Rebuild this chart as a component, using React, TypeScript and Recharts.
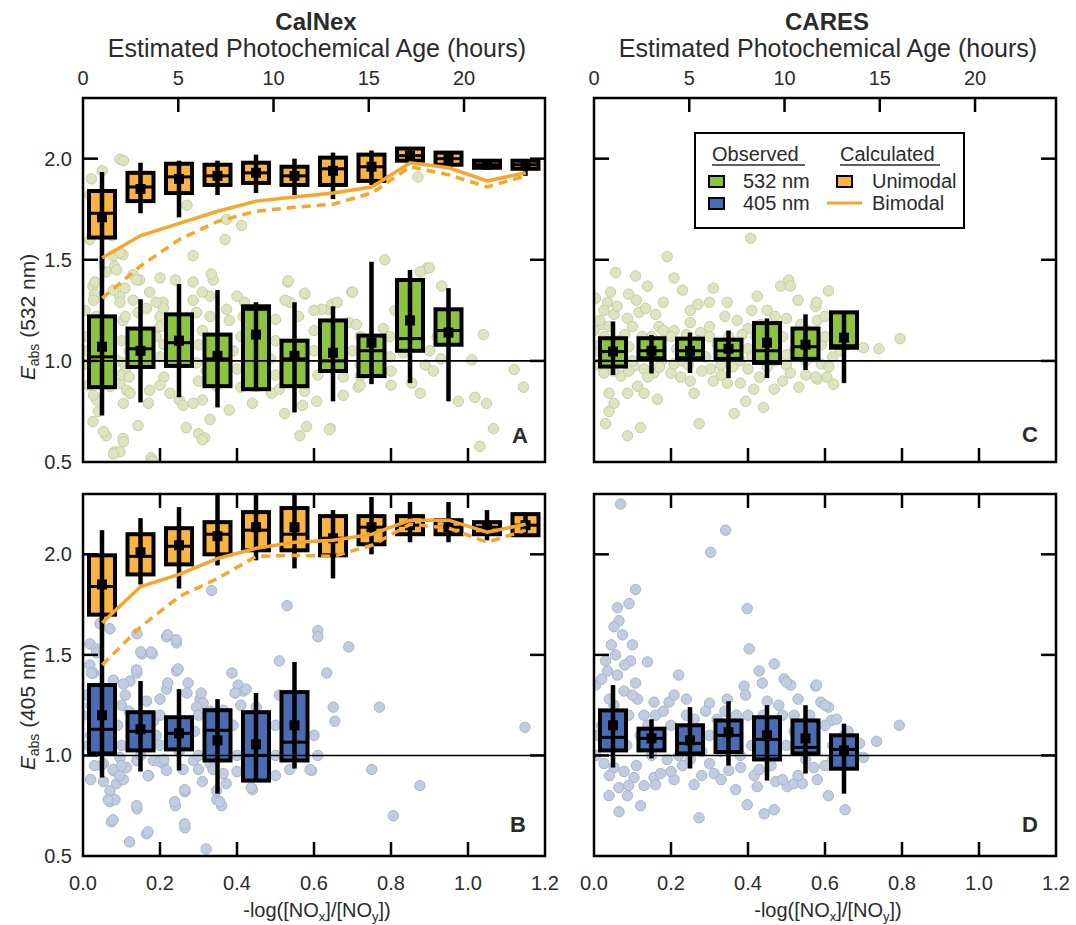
import React from 'react';
import { ComposedChart, XAxis, YAxis, Scatter, Line, Bar, ReferenceLine, ReferenceArea } from 'recharts';

const FONT = '"Liberation Sans", Arial, Helvetica, sans-serif';
const INK = '#2b2b2b';

const binCenters = [0.05, 0.15, 0.25, 0.35, 0.45, 0.55, 0.65, 0.75, 0.85, 0.95, 1.05, 1.15];
const ratioTicks = [0, 0.2, 0.4, 0.6, 0.8, 1.0, 1.2];
const hourTicks = [0, 5, 10, 15, 20];
const eabsTicks = [0.5, 1.0, 1.5, 2.0];

// box stats per bin: [whisker low, q1, median, mean, q3, whisker high]
const calnexUni532 = [
  [1.45, 1.61, 1.73, 1.71, 1.84, 1.934],
  [1.73, 1.79, 1.86, 1.85, 1.93, 1.98],
  [1.71, 1.83, 1.91, 1.9, 1.975, 1.99],
  [1.82, 1.87, 1.915, 1.915, 1.97, 1.99],
  [1.83, 1.88, 1.93, 1.93, 1.98, 2.02],
  [1.82, 1.87, 1.915, 1.915, 1.96, 2.0],
  [1.8, 1.87, 1.95, 1.94, 2.005, 2.03],
  [1.87, 1.89, 1.96, 1.96, 2.02, 2.04],
  [1.98, 1.99, 2.015, 2.015, 2.05, 2.05],
  [1.97, 1.97, 2.0, 2.0, 2.03, 2.035],
  [1.95, 1.955, 1.97, 1.97, 1.99, 1.995],
  [1.915, 1.95, 1.97, 1.97, 1.99, 1.995],
];
const calnexObs532 = [
  [0.73, 0.87, 1.02, 1.07, 1.22, 1.52],
  [0.795, 0.97, 1.06, 1.05, 1.16, 1.305],
  [0.82, 0.975, 1.09, 1.1, 1.23, 1.38],
  [0.77, 0.875, 1.01, 1.025, 1.13, 1.35],
  [0.85, 0.86, 1.255, 1.13, 1.27, 1.29],
  [0.745, 0.875, 1.01, 1.025, 1.1, 1.29],
  [0.8, 0.95, 1.0, 1.04, 1.2, 1.27],
  [0.885, 0.925, 1.05, 1.09, 1.125, 1.49],
  [0.89, 1.05, 1.11, 1.2, 1.4, 1.45],
  [0.8, 1.08, 1.15, 1.14, 1.255, 1.36],
];
const calnexBimodal532 = [1.51, 1.62, 1.68, 1.74, 1.79, 1.81, 1.83, 1.86, 1.98, 1.955, 1.89, 1.93];
const calnexBimodal532Dash = [1.31, 1.47, 1.6, 1.69, 1.74, 1.76, 1.775, 1.83, 1.96, 1.92, 1.86, 1.915];

const calnexUni405 = [
  [1.66, 1.7, 1.84, 1.85, 1.995, 2.12],
  [1.85, 1.9, 1.99, 2.01, 2.1, 2.18],
  [1.83, 1.95, 2.04, 2.045, 2.13, 2.235],
  [1.945, 2.0, 2.1, 2.09, 2.16, 2.3],
  [1.97, 2.02, 2.12, 2.135, 2.21, 2.3],
  [1.93, 2.02, 2.1, 2.135, 2.23, 2.3],
  [1.88, 1.995, 2.08, 2.08, 2.19, 2.22],
  [2.0, 2.05, 2.135, 2.135, 2.19, 2.285],
  [2.06, 2.1, 2.145, 2.145, 2.19, 2.26],
  [2.06, 2.1, 2.135, 2.135, 2.17, 2.26],
  [2.07, 2.1, 2.135, 2.135, 2.16, 2.22],
  [2.09, 2.095, 2.145, 2.145, 2.2, 2.205],
];
const calnexObs405 = [
  [0.89, 1.01, 1.13, 1.2, 1.35, 1.69],
  [0.92, 1.025, 1.12, 1.13, 1.215, 1.37],
  [0.925, 1.03, 1.11, 1.11, 1.19, 1.33],
  [0.81, 0.975, 1.125, 1.075, 1.225, 1.28],
  [0.875, 0.875, 1.0, 1.055, 1.215, 1.31],
  [0.935, 0.975, 1.066, 1.15, 1.315, 1.465],
];
const calnexBimodal405 = [1.66, 1.84, 1.9, 1.98, 2.03, 2.06, 2.07, 2.1, 2.17, 2.17, 2.11, 2.15];
const calnexBimodal405Dash = [1.45, 1.64, 1.79, 1.88, 1.99, 1.995, 1.99, 2.045, 2.15, 2.13, 2.06, 2.12];

const caresObs532 = [
  [0.93, 0.972, 1.046, 1.046, 1.112, 1.195],
  [0.938, 1.013, 1.05, 1.05, 1.112, 1.128],
  [0.94, 1.013, 1.05, 1.05, 1.11, 1.14],
  [0.915, 1.01, 1.05, 1.06, 1.105, 1.15],
  [0.915, 0.99, 1.05, 1.09, 1.187, 1.21],
  [0.955, 1.01, 1.07, 1.08, 1.16, 1.23],
  [0.89, 1.065, 1.075, 1.115, 1.24, 1.24],
];
const caresObs405 = [
  [0.94, 1.025, 1.09, 1.15, 1.224, 1.35],
  [0.985, 1.025, 1.085, 1.085, 1.133, 1.18],
  [0.935, 1.01, 1.06, 1.075, 1.15, 1.24],
  [0.95, 1.017, 1.1, 1.115, 1.174, 1.27],
  [0.875, 0.98, 1.08, 1.1, 1.19, 1.25],
  [0.91, 1.01, 1.04, 1.085, 1.174, 1.25],
  [0.81, 0.934, 1.03, 1.025, 1.1, 1.158],
];

// individual measurements [-log(NOx/NOy), Eabs]
const calnexPts532 = [
  [0.096, 1.997], [0.105, 1.99], [0.022, 1.9], [0.05, 1.94], [0.018, 1.82], [0.87, 1.91], [0.018, 1.6], [0.075, 1.62],
  [0.27, 1.77], [0.373, 1.7], [0.412, 1.67], [0.369, 1.6], [0.286, 1.52], [0.104, 1.525], [0.079, 1.52], [0.096, 1.535],
  [0.082, 1.467], [0.13, 1.426], [0.2, 1.41], [0.147, 1.4], [0.286, 1.39], [0.338, 1.4], [0.333, 1.43], [0.532, 1.39],
  [0.576, 1.33], [0.537, 1.29], [0.42, 1.29], [0.026, 1.37], [0.03, 1.33], [0.095, 1.32], [0.173, 1.34], [0.208, 1.29],
  [0.286, 1.3], [0.33, 1.32], [0.38, 1.2], [0.33, 1.22], [0.2, 1.22], [0.104, 1.2], [0.143, 1.24], [0.06, 1.44],
  [0.087, 1.45], [0.031, 1.39], [0.027, 1.3], [0.035, 1.22], [0.027, 1.16], [0.784, 1.5], [0.893, 1.459], [0.876, 1.44],
  [0.932, 1.37], [0.576, 1.335], [0.698, 1.34], [0.637, 1.255], [0.646, 1.28], [1.04, 1.13], [1.01, 1.005], [1.12, 0.957],
  [1.144, 0.87], [0.975, 0.8], [1.018, 0.82], [1.048, 0.79], [1.066, 0.665], [1.031, 0.577], [0.876, 0.84], [0.854, 0.89],
  [0.889, 0.98], [0.676, 0.83], [0.607, 0.8], [0.715, 0.87], [0.581, 0.675], [0.642, 0.666], [0.676, 0.92], [0.576, 0.85],
  [0.533, 1.395], [0.7, 1.34], [0.9, 1.46], [0.72, 1.12], [0.745, 1.09], [0.78, 1.16], [0.797, 1.12], [0.92, 1.12],
  [0.93, 1.01], [0.832, 1.04], [0.797, 1.02], [0.72, 0.925], [0.487, 1.01], [0.45, 1.01], [0.4, 0.96], [0.295, 0.99],
  [0.105, 0.99], [0.096, 0.89], [0.035, 0.925], [0.5, 1.205], [0.525, 1.3], [0.56, 1.22], [0.62, 1.255], [0.66, 1.29],
  [0.69, 1.19], [0.295, 1.24], [0.31, 1.34], [0.4, 1.32], [0.416, 1.22], [0.373, 1.255], [0.165, 1.26], [0.209, 1.26],
  [0.19, 1.29], [0.24, 1.4], [0.139, 1.4], [0.109, 1.36], [0.079, 1.35], [0.096, 1.29], [0.035, 0.807], [0.07, 0.873],
  [0.113, 0.855], [0.173, 0.855], [0.25, 0.807], [0.286, 0.79], [0.31, 0.807], [0.38, 0.757], [0.44, 0.79], [0.49, 0.84],
  [0.524, 0.74], [0.33, 0.71], [0.143, 0.68], [0.104, 0.617], [0.06, 0.63], [0.026, 0.7], [0.082, 0.55], [0.177, 0.52],
  [0.268, 0.67], [0.3, 0.64], [0.316, 0.62], [0.563, 0.63], [0.096, 0.55], [0.079, 0.54], [0.18, 0.505], [0.105, 0.6],
  [0.053, 0.65], [0.04, 0.75], [0.027, 0.83], [0.105, 0.79], [0.122, 0.84], [0.17, 0.79], [0.226, 0.84], [0.26, 0.78],
  [0.347, 0.875], [0.57, 0.78], [0.64, 0.66], [0.72, 0.88], [0.31, 0.61], [0.012, 1.05], [0.1, 1.1], [0.11, 0.95],
  [0.2, 1.02], [0.21, 0.92], [0.3, 1.08], [0.3, 0.9], [0.41, 1.12], [0.5, 0.93], [0.6, 1.05], [0.6, 1.15],
  [0.7, 1.05], [0.8, 0.95], [0.9, 1.05], [0.19, 1.12], [0.012, 1.12], [0.0, 0.98], [0.005, 1.25], [0.015, 0.88],
  [0.09, 1.0], [0.1, 0.93], [0.11, 1.22], [0.12, 1.05], [0.12, 0.92], [0.13, 1.3], [0.2, 0.88], [0.2, 1.17],
  [0.21, 1.08], [0.31, 1.15], [0.32, 0.95], [0.39, 1.05], [0.41, 0.87], [0.5, 1.1], [0.51, 0.86], [0.61, 0.93],
  [0.6, 1.25], [0.71, 1.18], [0.72, 0.98], [0.81, 1.25], [0.8, 0.88], [0.91, 0.95],
];
const caresPts532 = [
  [0.407, 1.607], [0.19, 1.516], [0.056, 1.437], [0.108, 1.42], [0.208, 1.41], [0.139, 1.37], [0.23, 1.35], [0.043, 1.34],
  [0.09, 1.33], [0.31, 1.36], [0.3, 1.29], [0.346, 1.29], [0.485, 1.37], [0.506, 1.4], [0.51, 1.37], [0.424, 1.32],
  [0.45, 1.25], [0.576, 1.27], [0.004, 1.31], [0.035, 1.29], [0.026, 1.25], [0.052, 1.23], [0.087, 1.21], [0.117, 1.24],
  [0.134, 1.26], [0.16, 1.23], [0.169, 1.17], [0.208, 1.15], [0.25, 1.19], [0.277, 1.14], [0.3, 1.17], [0.372, 1.2],
  [0.4, 1.16], [0.433, 1.18], [0.5, 1.21], [0.537, 1.18], [0.554, 1.15], [0.58, 1.2], [0.026, 1.12], [0.609, 1.346],
  [0.578, 1.29], [0.795, 1.11], [0.74, 1.06], [0.7, 1.065], [0.622, 0.885], [0.605, 0.92], [0.58, 0.91], [0.026, 0.94],
  [0.07, 0.925], [0.113, 0.875], [0.13, 0.84], [0.039, 0.84], [0.052, 0.79], [0.087, 0.84], [0.165, 0.81], [0.039, 0.75],
  [0.03, 0.69], [0.121, 0.67], [0.087, 0.63], [0.26, 0.84], [0.273, 0.69], [0.31, 0.9], [0.346, 0.89], [0.38, 0.89],
  [0.364, 0.74], [0.394, 0.8], [0.44, 0.77], [0.415, 0.86], [0.468, 0.86], [0.532, 0.87], [0.576, 0.92], [0.59, 0.985],
  [0.2, 0.94], [0.225, 0.92], [0.156, 0.94], [0.13, 0.96], [0.303, 0.96], [0.4, 0.96], [0.208, 0.985], [0.104, 0.975],
  [0.01, 1.05], [0.03, 1.02], [0.06, 1.0], [0.1, 1.0], [0.15, 1.12], [0.2, 1.12], [0.23, 1.0], [0.27, 1.1],
  [0.32, 1.08], [0.35, 1.12], [0.38, 1.0], [0.42, 1.12], [0.47, 1.0], [0.5, 0.98], [0.52, 1.05], [0.57, 1.02],
  [0.62, 1.02], [0.63, 1.12], [0.66, 1.08], [0.02, 1.18], [0.08, 1.13], [0.012, 0.98], [0.0, 1.15], [0.015, 1.08],
  [0.04, 1.17], [0.065, 1.1], [0.09, 1.07], [0.1, 1.17], [0.125, 1.12], [0.13, 1.03], [0.16, 1.06], [0.175, 1.0],
  [0.18, 1.15], [0.215, 1.06], [0.24, 1.13], [0.245, 0.98], [0.265, 1.05], [0.29, 1.02], [0.3, 1.12], [0.33, 0.98],
  [0.355, 1.05], [0.385, 1.13], [0.4, 1.06], [0.41, 1.02], [0.44, 1.08], [0.455, 1.15], [0.49, 1.12], [0.5, 1.03],
  [0.53, 1.1], [0.55, 1.0], [0.59, 1.08], [0.6, 1.12], [0.64, 1.05], [0.05, 0.95], [0.09, 0.95], [0.14, 0.92],
  [0.17, 0.97], [0.25, 0.9], [0.28, 0.95], [0.33, 0.93], [0.36, 0.97], [0.43, 0.92], [0.45, 0.97], [0.49, 0.9],
  [0.51, 0.94], [0.55, 0.93], [0.61, 0.97], [0.015, 1.2], [0.06, 1.27], [0.11, 1.3], [0.18, 1.29], [0.25, 1.25],
  [0.27, 1.28], [0.34, 1.22], [0.41, 1.25], [0.47, 1.22], [0.53, 1.3], [0.6, 1.22], [0.66, 1.15],
];
const calnexPts405 = [
  [0.334, 1.82], [0.53, 1.745], [0.61, 1.62], [0.61, 1.59], [0.69, 1.54], [0.633, 1.41], [0.51, 1.47], [0.387, 1.41],
  [0.403, 1.35], [0.417, 1.32], [0.395, 1.31], [0.65, 1.24], [0.654, 1.17], [0.77, 1.24], [1.148, 1.14], [0.75, 0.93],
  [0.875, 0.85], [0.806, 0.7], [0.594, 0.925], [0.537, 0.93], [0.44, 0.83], [0.36, 0.75], [0.347, 0.78], [0.265, 0.82],
  [0.24, 0.75], [0.265, 0.64], [0.14, 0.735], [0.17, 0.9], [0.074, 0.67], [0.165, 0.61], [0.07, 0.77], [0.053, 0.87],
  [0.087, 0.86], [0.083, 0.78], [0.105, 0.88], [0.018, 1.555], [0.035, 1.53], [0.044, 1.655], [0.07, 1.63], [0.14, 1.605],
  [0.153, 1.505], [0.18, 1.505], [0.217, 1.59], [0.243, 1.56], [0.243, 1.42], [0.217, 1.33], [0.14, 1.41], [0.122, 1.37],
  [0.079, 1.375], [0.105, 1.355], [0.027, 1.41], [0.018, 1.45], [0.27, 1.31], [0.304, 1.28], [0.312, 1.26], [0.33, 1.22],
  [0.295, 1.24], [0.347, 1.21], [0.364, 1.225], [0.45, 1.24], [0.165, 1.27], [0.183, 1.17], [0.096, 0.99], [0.14, 0.975],
  [0.183, 0.975], [0.208, 0.96], [0.217, 0.925], [0.287, 0.975], [0.33, 0.96], [0.364, 0.91], [0.372, 0.86], [0.113, 0.94],
  [0.079, 0.925], [0.053, 0.96], [0.07, 0.825], [0.347, 0.825], [0.31, 0.87], [0.035, 1.51], [0.048, 0.95], [0.078, 0.93],
  [0.095, 0.9], [0.065, 0.78], [0.139, 0.75], [0.078, 0.68], [0.169, 0.62], [0.121, 0.57], [0.32, 0.535], [0.264, 0.66],
  [0.238, 0.77], [0.264, 0.83], [0.169, 0.9], [0.2, 0.97], [0.26, 0.93], [0.338, 0.93], [0.355, 0.77], [0.437, 0.84],
  [0.468, 0.9], [0.59, 0.93], [0.424, 1.33], [0.307, 1.31], [0.273, 1.36], [0.22, 1.36], [0.139, 1.425], [0.022, 1.41],
  [0.22, 1.6], [0.242, 1.575], [0.15, 1.515], [0.177, 1.515], [0.247, 1.43], [0.02, 1.1], [0.1, 1.05], [0.15, 1.0],
  [0.2, 1.05], [0.25, 1.02], [0.3, 1.0], [0.4, 1.0], [0.45, 1.02], [0.5, 1.0], [0.55, 1.05], [0.2, 1.2],
  [0.25, 1.15], [0.1, 1.25], [0.02, 1.25], [0.0, 1.2], [0.01, 1.3], [0.015, 1.05], [0.09, 1.15], [0.1, 0.95],
  [0.11, 1.3], [0.12, 1.22], [0.13, 1.05], [0.19, 1.1], [0.2, 1.28], [0.21, 0.98], [0.29, 1.12], [0.3, 0.93],
  [0.3, 1.2], [0.39, 1.15], [0.4, 0.92], [0.41, 1.25], [0.5, 1.15], [0.5, 0.9], [0.51, 1.3], [0.6, 1.1],
  [0.61, 1.0], [0.02, 0.88], [0.03, 0.95],
];
const caresPts405 = [
  [0.069, 2.25], [0.342, 2.12], [0.303, 2.01], [0.108, 1.825], [0.061, 1.735], [0.091, 1.755], [0.065, 1.67], [0.052, 1.64],
  [0.074, 1.6], [0.398, 1.73], [0.403, 1.53], [0.056, 1.5], [0.095, 1.47], [0.139, 1.465], [0.035, 1.42], [0.061, 1.4],
  [0.108, 1.36], [0.22, 1.4], [0.468, 1.455], [0.429, 1.42], [0.437, 1.36], [0.494, 1.38], [0.511, 1.35], [0.576, 1.345],
  [0.004, 1.35], [0.39, 1.345], [0.394, 1.3], [0.113, 1.28], [0.156, 1.265], [0.195, 1.265], [0.208, 1.3], [0.3, 1.26],
  [0.346, 1.28], [0.589, 1.265], [0.052, 1.25], [0.078, 1.32], [0.026, 0.96], [0.052, 0.94], [0.078, 0.92], [0.104, 0.89],
  [0.065, 0.84], [0.039, 0.8], [0.087, 0.8], [0.065, 0.72], [0.121, 0.75], [0.156, 0.89], [0.16, 0.855], [0.173, 0.91],
  [0.208, 0.88], [0.26, 0.855], [0.273, 0.69], [0.3, 0.96], [0.312, 0.91], [0.35, 0.925], [0.368, 0.83], [0.398, 0.755],
  [0.424, 0.845], [0.442, 0.71], [0.468, 0.73], [0.472, 0.87], [0.502, 0.845], [0.519, 0.86], [0.541, 0.86], [0.571, 0.94],
  [0.416, 0.9], [0.381, 0.94], [0.609, 0.8], [0.652, 0.73], [0.734, 1.07], [0.793, 1.15], [0.609, 1.24], [0.578, 1.35],
  [0.5, 1.365], [0.617, 1.175], [0.7, 0.99], [0.01, 1.1], [0.03, 1.2], [0.14, 1.15], [0.15, 1.0], [0.2, 1.15],
  [0.22, 1.0], [0.26, 1.18], [0.28, 1.02], [0.32, 1.18], [0.37, 1.2], [0.38, 1.0], [0.44, 1.2], [0.46, 1.0],
  [0.52, 1.2], [0.55, 0.98], [0.6, 1.15], [0.62, 1.05], [0.65, 1.1], [0.68, 1.0], [0.03, 1.05], [0.09, 1.2],
  [0.16, 1.2], [0.48, 1.25], [0.53, 1.28], [0.24, 1.2], [0.005, 1.0], [0.02, 1.15], [0.04, 1.28], [0.07, 1.2],
  [0.085, 1.05], [0.1, 1.3], [0.12, 1.1], [0.13, 1.2], [0.17, 1.05], [0.18, 1.22], [0.19, 0.98], [0.23, 1.1],
  [0.24, 1.28], [0.25, 0.98], [0.27, 1.08], [0.29, 1.22], [0.3, 1.1], [0.33, 1.02], [0.34, 1.22], [0.36, 1.15],
  [0.4, 1.2], [0.41, 1.05], [0.43, 1.15], [0.45, 1.27], [0.47, 1.1], [0.49, 1.2], [0.5, 1.05], [0.52, 1.12],
  [0.56, 1.2], [0.57, 1.05], [0.6, 1.25], [0.62, 0.98], [0.63, 1.18], [0.66, 1.12], [0.69, 1.06], [0.04, 0.9],
  [0.09, 0.85], [0.11, 0.95], [0.13, 0.85], [0.2, 0.92], [0.23, 0.95], [0.28, 0.9], [0.33, 0.88], [0.43, 0.93],
  [0.46, 0.95], [0.49, 0.88], [0.53, 0.9], [0.58, 0.88], [0.6, 0.95], [0.02, 1.38], [0.045, 1.55], [0.08, 1.45],
  [0.03, 1.47], [0.1, 1.55],
];

const ORANGE = '#fbb440';
const LINE_ORANGE = '#f8a52c';
const GREEN = '#8cc43f';
const BLUE = '#4a6cb4';
const GREEN_PT = '#dde5c0';
const GREEN_PT_EDGE = '#c4cea0';
const BLUE_PT = '#c2cce0';
const BLUE_PT_EDGE = '#a8b4cc';

const BoxShape = (props: any) => {
  const { x, y, width, height, payload, obsFill } = props;
  if (x == null || !payload) return null;
  const sets: any[] = [];
  if (payload.uni) sets.push([payload.uni, ORANGE]);
  if (payload.obs) sets.push([payload.obs, obsFill]);
  const all = sets.flatMap((s) => s[0]);
  const lo = Math.min(...all);
  const hi = Math.max(...all);
  const yTop = Math.min(y, y + height);
  const yBot = Math.max(y, y + height);
  const py = (v: number) => yTop + ((yBot - yTop) * (hi - v)) / (hi - lo);
  const cx = x + width / 2;
  const hw = 13;
  return (
    <g>
      {sets.map(([s, fill], i) => {
        const [wl, q1, med, mean, q3, wh] = s;
        return (
          <g key={i}>
            <rect x={cx - hw} y={py(q3)} width={hw * 2} height={py(q1) - py(q3)} fill={fill} stroke="#000" strokeWidth={4} />
            <line x1={cx} x2={cx} y1={py(wh)} y2={py(wl)} stroke="#000" strokeWidth={4.5} />
            <line x1={cx - hw} x2={cx + hw} y1={py(med)} y2={py(med)} stroke="#000" strokeWidth={3} />
            <rect x={cx - 5} y={py(mean) - 5} width={10} height={10} fill="#000" />
          </g>
        );
      })}
    </g>
  );
};

const rangeOf = (d: any) => {
  const all = [...(d.obs || []), ...(d.uni || [])];
  return [Math.min(...all), Math.max(...all)];
};

const BottomTick = (props: any) => {
  const { x, y, payload, show } = props;
  const v = payload.value;
  return (
    <g>
      {v > 0.001 && v < 1.19 && <line x1={x} x2={x} y1={y} y2={y - 14} stroke="#000" strokeWidth={2.5} />}
      {show && (
        <text x={x} y={y + 34} textAnchor="middle" fontSize={20} fill={INK} fontFamily={FONT}>
          {v.toFixed(1)}
        </text>
      )}
    </g>
  );
};

const TopTick = (props: any) => {
  const { x, y, payload, show, max } = props;
  const v = payload.value;
  return (
    <g>
      {v > 0.001 && v < max - 0.01 && <line x1={x} x2={x} y1={y} y2={y + 14} stroke="#000" strokeWidth={2.5} />}
      {show && (
        <text x={x} y={y - 13} textAnchor="middle" fontSize={20} fill={INK} fontFamily={FONT}>
          {v}
        </text>
      )}
    </g>
  );
};

const LeftTick = (props: any) => {
  const { x, y, payload, show } = props;
  const v = payload.value;
  return (
    <g>
      {v > 0.51 && <line x1={x} x2={x + 15} y1={y} y2={y} stroke="#000" strokeWidth={2.5} />}
      {show && (
        <text x={x - 11} y={y + 7} textAnchor="end" fontSize={20} fill={INK} fontFamily={FONT}>
          {v.toFixed(1)}
        </text>
      )}
    </g>
  );
};

const RightTick = (props: any) => {
  const { x, y, payload } = props;
  if (payload.value < 0.51) return <g />;
  return <line x1={x} x2={x - 15} y1={y} y2={y} stroke="#000" strokeWidth={2.5} />;
};

interface PanelProps {
  left: number;
  top: number;
  height: number;
  obs: number[][];
  obsFill: string;
  uni?: number[][];
  solid?: number[];
  dashed?: number[];
  pts: number[][];
  ptFill: string;
  ptStroke: string;
  topRow: boolean;
  leftCol: boolean;
}

const RIGHT_W = 20;

function Panel(p: PanelProps) {
  const n = Math.max(p.obs.length, p.uni ? p.uni.length : 0);
  const rows = binCenters.slice(0, n).map((x, i) => ({
    x,
    obs: p.obs[i],
    uni: p.uni ? p.uni[i] : undefined,
    bs: p.solid ? p.solid[i] : undefined,
    bd: p.dashed ? p.dashed[i] : undefined,
  }));
  const pts = p.pts.map(([x, y]) => ({ x, y }));
  const topMax = p.topRow ? 24.25 : 1.2;
  const W = 50 + 462 + RIGHT_W;
  const H = p.height + 75;
  return (
    <div style={{ position: 'absolute', left: p.left - 50, top: p.top - 30, width: W, height: H }}>
      {/* scatter layer sits under the boxes */}
      <div style={{ position: 'absolute', left: 0, top: 0 }}>
        <ComposedChart width={W} height={H} margin={{ top: 30, right: RIGHT_W, bottom: 45, left: 50 }}>
          <XAxis dataKey="x" type="number" domain={[0, 1.2]} allowDataOverflow hide />
          <YAxis type="number" domain={[0.5, 2.3]} allowDataOverflow hide />
          <Scatter
            data={pts}
            dataKey="y"
            isAnimationActive={false}
            shape={(s: any) => <circle cx={s.cx} cy={s.cy} r={5.2} fill={p.ptFill} stroke={p.ptStroke} strokeWidth={1} />}
          />
        </ComposedChart>
      </div>
      <div style={{ position: 'absolute', left: 0, top: 0 }}>
        <ComposedChart width={W} height={H} data={rows} margin={{ top: 0, right: 0, bottom: 0, left: 0 }}>
          <XAxis
            dataKey="x"
            type="number"
            domain={[0, 1.2]}
            allowDataOverflow
            ticks={ratioTicks}
            interval={0}
            height={45}
            tickSize={0}
            tickMargin={0}
            axisLine={false}
            tickLine={false}
            tick={(t: any) => <BottomTick {...t} show={!p.topRow} />}
          />
          <XAxis
            xAxisId="top"
            dataKey="x"
            orientation="top"
            type="number"
            domain={[0, topMax]}
            allowDataOverflow
            ticks={p.topRow ? hourTicks : ratioTicks}
            interval={0}
            height={30}
            tickSize={0}
            tickMargin={0}
            axisLine={false}
            tickLine={false}
            tick={(t: any) => <TopTick {...t} show={p.topRow} max={topMax} />}
          />
          <XAxis xAxisId="box" dataKey="x" type="number" domain={[0, 1.2]} allowDataOverflow hide />
          <YAxis
            type="number"
            domain={[0.5, 2.3]}
            allowDataOverflow
            ticks={eabsTicks}
            interval={0}
            width={50}
            tickSize={0}
            tickMargin={0}
            axisLine={false}
            tickLine={false}
            tick={(t: any) => <LeftTick {...t} show={p.leftCol} />}
          />
          <YAxis
            yAxisId="right"
            orientation="right"
            type="number"
            domain={[0.5, 2.3]}
            allowDataOverflow
            ticks={eabsTicks}
            interval={0}
            width={RIGHT_W}
            tickSize={0}
            tickMargin={0}
            axisLine={false}
            tickLine={false}
            tick={(t: any) => <RightTick {...t} />}
          />
          <ReferenceLine y={1} stroke="#000" strokeWidth={1.6} />
          <Bar
            xAxisId="box"
            dataKey={rangeOf}
            barSize={30}
            isAnimationActive={false}
            shape={(b: any) => <BoxShape {...b} obsFill={p.obsFill} />}
          />
          {p.solid && (
            <Line xAxisId="box" dataKey="bs" stroke={LINE_ORANGE} strokeWidth={3.5} dot={false} isAnimationActive={false} />
          )}
          {p.dashed && (
            <Line
              xAxisId="box"
              dataKey="bd"
              stroke={LINE_ORANGE}
              strokeWidth={3.5}
              strokeDasharray="9 6"
              dot={false}
              isAnimationActive={false}
            />
          )}
          <ReferenceArea x1={0} x2={1.2} y1={0.5} y2={2.3} fill="none" fillOpacity={0} stroke="#000" strokeWidth={2.5} />
        </ComposedChart>
      </div>
    </div>
  );
}

const YLabel = ({ x, y, text }: { x: number; y: number; text: string }) => (
  <text transform={`translate(${x},${y}) rotate(-90)`} textAnchor="middle" fontSize={21} fill={INK}>
    <tspan fontStyle="italic">E</tspan>
    <tspan fontSize={14} dy={4}>abs</tspan>
    <tspan dy={-4}>{text}</tspan>
  </text>
);

const XLabel = ({ x }: { x: number }) => (
  <text x={x} y={917} textAnchor="middle" fontSize={20} fill={INK}>
    -log([NO<tspan fontSize={13} dy={4}>x</tspan>
    <tspan dy={-4}>]/[NO</tspan>
    <tspan fontSize={13} dy={4}>y</tspan>
    <tspan dy={-4}>])</tspan>
  </text>
);

export default function App() {
  return (
    <div style={{ position: 'absolute', left: 0, top: 0, width: 1076, height: 925, background: '#fff', fontFamily: FONT }}>
      <Panel left={83} top={98} height={364} obs={calnexObs532} obsFill={GREEN} uni={calnexUni532}
        solid={calnexBimodal532} dashed={calnexBimodal532Dash} pts={calnexPts532} ptFill={GREEN_PT} ptStroke={GREEN_PT_EDGE}
        topRow leftCol />
      <Panel left={594} top={98} height={364} obs={caresObs532} obsFill={GREEN} pts={caresPts532}
        ptFill={GREEN_PT} ptStroke={GREEN_PT_EDGE} topRow leftCol={false} />
      <Panel left={83} top={494} height={362} obs={calnexObs405} obsFill={BLUE} uni={calnexUni405}
        solid={calnexBimodal405} dashed={calnexBimodal405Dash} pts={calnexPts405} ptFill={BLUE_PT} ptStroke={BLUE_PT_EDGE}
        topRow={false} leftCol />
      <Panel left={594} top={494} height={362} obs={caresObs405} obsFill={BLUE} pts={caresPts405}
        ptFill={BLUE_PT} ptStroke={BLUE_PT_EDGE} topRow={false} leftCol={false} />

      <svg width={1076} height={925} style={{ position: 'absolute', left: 0, top: 0, pointerEvents: 'none' }} fontFamily={FONT}>
        <text x={316} y={30} textAnchor="middle" fontSize={24} fontWeight="bold" fill={INK}>CalNex</text>
        <text x={827} y={30} textAnchor="middle" fontSize={24} fontWeight="bold" fill={INK}>CARES</text>
        <text x={317} y={57} textAnchor="middle" fontSize={25} fill={INK}>Estimated Photochemical Age (hours)</text>
        <text x={828} y={57} textAnchor="middle" fontSize={25} fill={INK}>Estimated Photochemical Age (hours)</text>

        <YLabel x={35} y={317} text=" (532 nm)" />
        <YLabel x={35} y={707} text=" (405 nm)" />
        <XLabel x={317} />
        <XLabel x={828} />

        <text x={528} y={443} textAnchor="end" fontSize={22} fontWeight="bold" fill={INK}>A</text>
        <text x={526} y={832} textAnchor="end" fontSize={22} fontWeight="bold" fill={INK}>B</text>
        <text x={1038} y={442} textAnchor="end" fontSize={22} fontWeight="bold" fill={INK}>C</text>
        <text x={1038} y={832} textAnchor="end" fontSize={22} fontWeight="bold" fill={INK}>D</text>

        <rect x={695} y={133} width={269} height={95} fill="#fff" stroke="#000" strokeWidth={2} />
        <text x={712} y={161} fontSize={20} fill={INK}>Observed</text>
        <line x1={712} x2={805} y1={165} y2={165} stroke={INK} strokeWidth={1.5} />
        <text x={840} y={161} fontSize={20} fill={INK}>Calculated</text>
        <line x1={840} x2={940} y1={165} y2={165} stroke={INK} strokeWidth={1.5} />
        <rect x={709} y={176} width={15} height={11} fill={GREEN} stroke="#000" strokeWidth={2} />
        <text x={743} y={188} fontSize={20} fill={INK}>532 nm</text>
        <rect x={837} y={176} width={15} height={11} fill={ORANGE} stroke="#000" strokeWidth={2} />
        <text x={872} y={188} fontSize={20} fill={INK}>Unimodal</text>
        <rect x={709} y={198} width={15} height={11} fill={BLUE} stroke="#000" strokeWidth={2} />
        <text x={743} y={210} fontSize={20} fill={INK}>405 nm</text>
        <line x1={827} x2={862} y1={203} y2={203} stroke={LINE_ORANGE} strokeWidth={3} />
        <text x={872} y={210} fontSize={20} fill={INK}>Bimodal</text>
      </svg>
    </div>
  );
}
